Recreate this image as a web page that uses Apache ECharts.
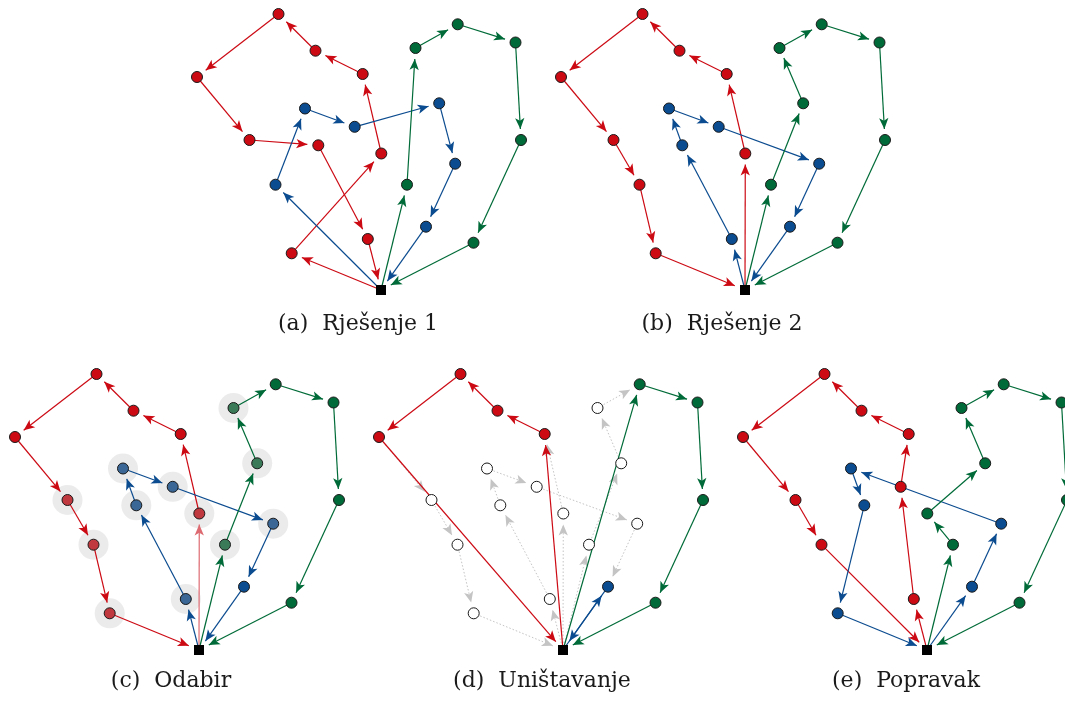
<!DOCTYPE html>
<html>
<head>
<meta charset="utf-8">
<script src="https://cdn.jsdelivr.net/npm/echarts@6/dist/echarts.min.js"></script>
<style>
html, body { margin: 0; padding: 0; background: #fff; }
#chart { width: 1065px; height: 702px; }
</style>
</head>
<body>
<div id="chart"></div>
<script>
// customer positions, relative to the depot (y up)
var nodeNames = ['D', 'R1', 'R2', 'R3', 'R4', 'R5', 'R6', 'R7', 'R8',
                 'B1', 'B2', 'B3', 'B4', 'B5', 'B6',
                 'G1', 'G2', 'G3', 'G4', 'G5', 'G6', 'G7'];
var nodeX = [0, -102.5, -65.5, -18.3, -184, -131.5, -105.5, -89.3, 0.3,
             -76, -26.3, -62.7, 74.2, 45, -13.2,
             76.7, 34.5, 134.5, 58.2, 140, 26, 92.5];
var nodeY = [0, 276, 239.3, 216, 213, 150, 105.3, 36.7, 136.5,
             181.5, 163.2, 144.7, 126.3, 63.3, 51,
             265.7, 242, 247.5, 186.7, 150, 105.3, 47.3];

// (a) Rješenje 1
var routeA_red = ['D', 'R7', 'R8', 'R3', 'R2', 'R1', 'R4', 'R5', 'B3', 'B6', 'D'];
var routeA_blue = ['D', 'R6', 'B1', 'B2', 'G4', 'B4', 'B5', 'D'];
var routeA_green = ['D', 'G6', 'G2', 'G1', 'G3', 'G5', 'G7', 'D'];
// (b) Rješenje 2
var routeB_red = ['D', 'R8', 'R3', 'R2', 'R1', 'R4', 'R5', 'R6', 'R7', 'D'];
var routeB_blue = ['D', 'B6', 'B3', 'B1', 'B2', 'B4', 'B5', 'D'];
var routeB_green = ['D', 'G6', 'G4', 'G2', 'G1', 'G3', 'G5', 'G7', 'D'];
// (c) Odabir - selected customers
var selected = ['R5', 'R6', 'R7', 'R8', 'B1', 'B2', 'B3', 'B4', 'B6', 'G2', 'G4', 'G6'];
var fadedLinksC = [['D', 'R8']];
// (d) Uništavanje
var routeD_red = ['D', 'R3', 'R2', 'R1', 'R4', 'D'];
var routeD_blue = ['D', 'B5', 'D'];
var routeD_green = ['D', 'G1', 'G3', 'G5', 'G7', 'D'];
// (e) Popravak
var routeE_red = ['D', 'B6', 'B2', 'R3', 'R2', 'R1', 'R4', 'R5', 'R6', 'D'];
var routeE_blue = ['D', 'B5', 'B4', 'B1', 'B3', 'R7', 'D'];
var routeE_green = ['D', 'G6', 'R8', 'G4', 'G2', 'G1', 'G3', 'G5', 'G7', 'D'];

var captions = ['(a)  Rješenje 1', '(b)  Rješenje 2', '(c)  Odabir', '(d)  Uništavanje', '(e)  Popravak'];

var RED = '#cc0a14', BLUE = '#0b4b8f', GREEN = '#006b38';
var faded = {};
faded[RED] = '#c0393f';
faded[BLUE] = '#3a6796';
faded[GREEN] = '#3a7a58';

var panels = [
    {depot: [381, 290], cap: [358, 324], routes: [[routeA_red, RED], [routeA_blue, BLUE], [routeA_green, GREEN]]},
    {depot: [745, 290], cap: [722, 324], routes: [[routeB_red, RED], [routeB_blue, BLUE], [routeB_green, GREEN]]},
    {depot: [199, 650], cap: [171, 681], routes: [[routeB_red, RED], [routeB_blue, BLUE], [routeB_green, GREEN]], select: true},
    {depot: [563, 650], cap: [542, 681], routes: [[routeD_red, RED], [routeD_blue, BLUE], [routeD_green, GREEN]], destroyed: true},
    {depot: [927, 650], cap: [906, 681], routes: [[routeE_red, RED], [routeE_blue, BLUE], [routeE_green, GREEN]]}
];

function pos(name) {
    var i = nodeNames.indexOf(name);
    return [nodeX[i], nodeY[i]];
}

var ARROW = [7, 11];
var grids = [], xAxes = [], yAxes = [], series = [], graphic = [];

panels.forEach(function (p, i) {
    grids.push({left: p.depot[0] - 195, top: p.depot[1] - 290, width: 350, height: 300, outerBoundsMode: 'none'});
    xAxes.push({type: 'value', gridIndex: i, min: -195, max: 155, show: false});
    yAxes.push({type: 'value', gridIndex: i, min: -10, max: 290, show: false});

    var color = {};
    var links = [];

    if (p.destroyed) {
        // old routes of the removed customers, dotted
        [routeB_red, routeB_blue, routeB_green].forEach(function (seq) {
            for (var k = 0; k < seq.length - 1; k++) {
                if (selected.indexOf(seq[k]) >= 0 || selected.indexOf(seq[k + 1]) >= 0) {
                    links.push({source: seq[k], target: seq[k + 1], symbol: ['none', 'arrow'],
                        lineStyle: {color: '#c4c4c4', width: 1, type: [1.5, 2], opacity: 1}});
                }
            }
        });
        selected.forEach(function (n) { color[n] = '#ffffff'; });
    }

    p.routes.forEach(function (r) {
        var seq = r[0], col = r[1];
        for (var k = 0; k < seq.length - 1; k++) {
            if (seq[k] !== 'D') color[seq[k]] = col;
            var lc = col;
            if (p.select) {
                fadedLinksC.forEach(function (f) {
                    if (f[0] === seq[k] && f[1] === seq[k + 1]) lc = '#dd6a70';
                });
            }
            links.push({source: seq[k], target: seq[k + 1], symbol: ['none', 'arrow'],
                lineStyle: {color: lc, width: 1.2, type: 'solid', opacity: 1}});
        }
    });

    var gNodes = nodeNames.map(function (n) { return {name: n, value: pos(n)}; });

    if (p.select) {
        series.push({
            type: 'scatter', xAxisIndex: i, yAxisIndex: i, z: 1, silent: true,
            symbolSize: 30, itemStyle: {color: '#e6e6e6'},
            data: selected.map(function (n) { return pos(n); })
        });
    }

    series.push({
        type: 'graph', coordinateSystem: 'cartesian2d', xAxisIndex: i, yAxisIndex: i, z: 2,
        silent: true, symbol: 'circle', symbolSize: 22,
        itemStyle: {color: 'rgba(0,0,0,0)'},
        lineStyle: {opacity: 1},
        edgeSymbolSize: [ARROW, ARROW],
        label: {show: false},
        data: gNodes, links: links
    });

    var dots = [];
    nodeNames.forEach(function (n) {
        if (n === 'D') return;
        var c = color[n];
        if (p.select && selected.indexOf(n) >= 0) c = faded[c];
        dots.push({value: pos(n), itemStyle: {color: c}});
    });
    dots.push({value: pos('D'), symbol: 'rect', symbolSize: 10, itemStyle: {color: '#000', borderWidth: 0}});

    series.push({
        type: 'scatter', xAxisIndex: i, yAxisIndex: i, z: 3, silent: true, clip: false,
        symbol: 'circle', symbolSize: 11,
        itemStyle: {borderColor: '#1a1a1a', borderWidth: 1, opacity: 1},
        data: dots
    });

    graphic.push({
        type: 'text', x: p.cap[0], y: p.cap[1],
        style: {text: captions[i], font: '22px "DejaVu Serif"', fill: '#1a1a1a',
            align: 'center', verticalAlign: 'middle', textAlign: 'center', textVerticalAlign: 'middle'}
    });
});

var myChart = echarts.init(document.getElementById('chart'));
option = {
    animation: false,
    backgroundColor: '#fff',
    grid: grids,
    xAxis: xAxes,
    yAxis: yAxes,
    series: series,
    graphic: graphic
};
myChart.setOption(option);
</script>
</body>
</html>
